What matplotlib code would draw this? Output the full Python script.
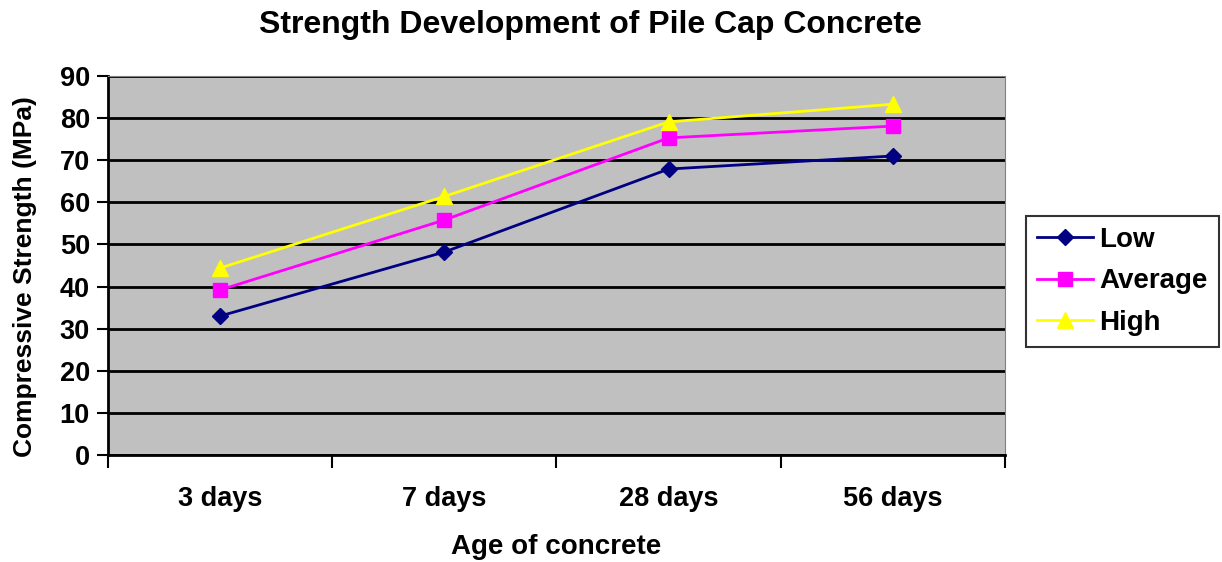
import matplotlib.pyplot as plt
import numpy as np

plt.rcParams['font.family'] = ['Liberation Sans', 'DejaVu Sans']
plt.rcParams['font.weight'] = 'bold'

ages = ["3 days", "7 days", "28 days", "56 days"]
low = [33.0, 48.2, 67.9, 71.0]
average = [39.2, 55.8, 75.3, 78.1]
high = [44.4, 61.4, 79.1, 83.3]

fig = plt.figure(figsize=(12.22, 5.62), dpi=100)
ax = fig.add_axes([0.0884, 0.1904, 0.734, 0.6744])
ax.set_facecolor('#c0c0c0')

x = np.arange(len(ages))
ax.plot(x, low, color='#000080', marker='D', markersize=8, lw=2, label='Low')
ax.plot(x, average, color='#ff00ff', marker='s', markersize=10, lw=2, label='Average')
ax.plot(x, high, color='#ffff00', marker='^', markersize=11, lw=2, label='High')

ax.set_xlim(-0.5, len(ages) - 0.5)
ax.set_ylim(0, 90)
ax.set_yticks(np.arange(0, 91, 10))
ax.yaxis.grid(True, color='black', lw=2)
ax.set_axisbelow(True)

# category boundaries get the tick marks, names sit in between
ax.set_xticks(np.arange(-0.5, len(ages)), minor=False)
ax.set_xticklabels([])
ax.set_xticks(x, minor=True)
ax.set_xticklabels(ages, minor=True, fontsize=19.5, fontweight='bold')
ax.tick_params(axis='x', which='major', length=9, width=1.5, direction='out')
ax.tick_params(axis='x', which='minor', length=0, pad=22)
ax.tick_params(axis='y', length=8, width=1.5, labelsize=19.5, pad=5)
for lbl in ax.get_yticklabels():
    lbl.set_fontweight('bold')

for side in ['left', 'bottom']:
    ax.spines[side].set_linewidth(2)
ax.spines['top'].set_color('#808080')
ax.spines['right'].set_color('#808080')

fig.text(0.4828, 1 - 25 / 562, "Strength Development of Pile Cap Concrete", fontsize=23,
         fontweight='bold', ha='center', va='center')
ax.set_xlabel("Age of concrete", fontsize=20, fontweight='bold')
ax.xaxis.set_label_coords(0.5, -(547 - 455) / 379, transform=ax.transAxes)
ax.xaxis.label.set_va('center')
ax.set_ylabel("Compressive Strength (MPa)", fontsize=19, fontweight='bold')
ax.yaxis.set_label_coords((25 - 108) / 897, (455 - 277) / 379)
ax.yaxis.label.set_va('center')

leg = fig.legend(loc='upper left', bbox_to_anchor=(1026 / 1222, 1 - 216 / 562), fontsize=20,
                 frameon=True, fancybox=False, edgecolor='black', handlelength=2.0,
                 borderpad=0.4, labelspacing=0.55, handletextpad=0.25, borderaxespad=0)
leg.get_frame().set_linewidth(1.5)
for t in leg.get_texts():
    t.set_fontweight('bold')

fig.savefig('out.png', dpi=100, facecolor='white')
